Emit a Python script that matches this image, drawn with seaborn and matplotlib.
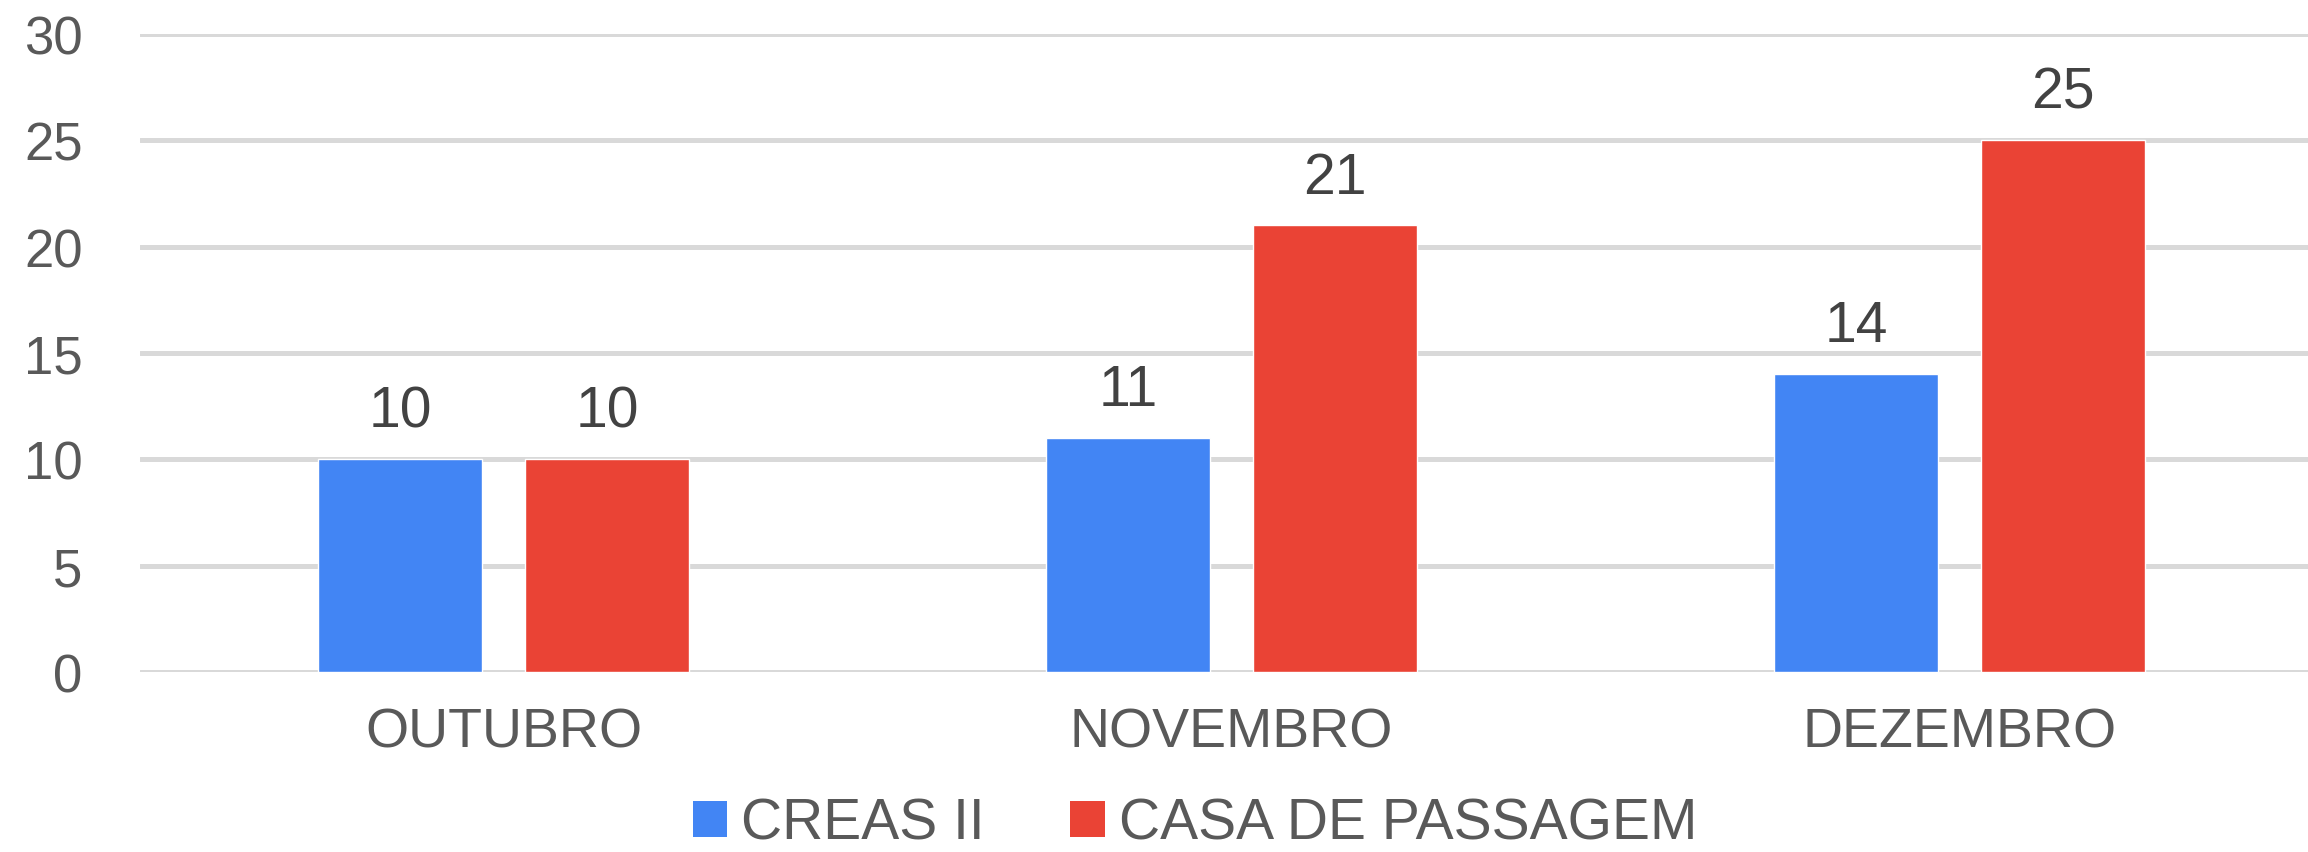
import matplotlib
matplotlib.use("Agg")
import matplotlib.pyplot as plt
from matplotlib.patches import Patch
import seaborn as sns
import pandas as pd

# ---- data ----
months = ["OUTUBRO", "NOVEMBRO", "DEZEMBRO"]
series_names = ["CREAS II", "CASA DE PASSAGEM"]
creas_ii = [10, 11, 14]
casa_de_passagem = [10, 21, 25]
y_ticks = [0, 5, 10, 15, 20, 25, 30]

colors = ["#4285F4", "#EA4335"]

df = pd.DataFrame({
    "mes": months * 2,
    "serie": [series_names[0]] * len(months) + [series_names[1]] * len(months),
    "valor": creas_ii + casa_de_passagem,
})

sns.set_theme(style="white")
plt.rcParams["font.family"] = ["Liberation Sans", "DejaVu Sans"]

W, H = 2308, 853
fig = plt.figure(figsize=(W / 100, H / 100), dpi=100)
left = 139.5 / W
right = 2323.5 / W
bottom = (H - 673) / H
top = (H - 35) / H
ax = fig.add_axes([left, bottom, right - left, top - bottom])

sns.barplot(data=df, x="mes", y="valor", hue="serie", order=months,
            hue_order=series_names, palette=colors, width=0.568, gap=0.21,
            saturation=1, ax=ax, legend=False, zorder=3)

for cont in ax.containers:
    ax.bar_label(cont, fmt="%d", padding=15, fontsize=41, color="#424242")

ax.set_xlim(-0.5, 2.5)
ax.set_ylim(0, 30)
ax.set_yticks(y_ticks)
ax.set_yticklabels([str(v) for v in y_ticks])
ax.yaxis.grid(True, color="#D9D9D9", linewidth=3.6, zorder=0)
ax.set_axisbelow(True)
for s in ax.spines.values():
    s.set_visible(False)
ax.tick_params(axis="y", length=0, pad=41, labelsize=38, labelcolor="#595959")
ax.tick_params(axis="x", length=0, pad=25, labelsize=40, labelcolor="#595959")
ax.set_xlabel("")
ax.set_ylabel("")

handles = [Patch(facecolor=c, edgecolor="none", label=n) for c, n in zip(colors, series_names)]
fig.legend(handles=handles, loc="center", bbox_to_anchor=(1195 / W, 28 / H), ncol=2,
           frameon=False, fontsize=41, labelcolor="#595959", handlelength=0.6,
           handleheight=0.6, handletextpad=0.25, columnspacing=1.5, borderpad=0)

fig.savefig("out.png", dpi=100)
